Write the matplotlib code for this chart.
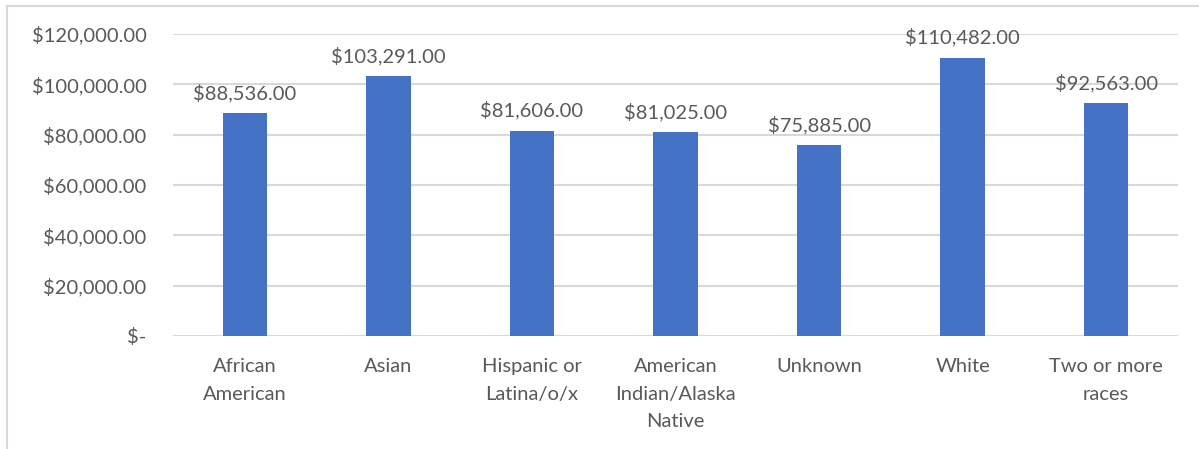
import matplotlib.pyplot as plt
from matplotlib.patches import Rectangle
from matplotlib.ticker import FuncFormatter
import numpy as np

plt.rcParams['font.family'] = ['Lato', 'DejaVu Sans']

groups = ['African\nAmerican', 'Asian', 'Hispanic or\nLatina/o/x',
          'American\nIndian/Alaska\nNative', 'Unknown', 'White',
          'Two or more\nraces']
salary = [88536, 103291, 81606, 81025, 75885, 110482, 92563]

text_color = '#595959'
bar_color = '#4472C4'
grid_color = '#D9D9D9'
fs = 14.5

fig = plt.figure(figsize=(11.99, 4.49), dpi=100)
ax = fig.add_axes([0.1443, 0.2517, 0.8382, 0.6726])

# light frame round the chart
fig.patches.append(Rectangle((0.006, -0.01), 1.2, 0.997, transform=fig.transFigure,
                             fill=False, edgecolor='#D9D9D9', linewidth=1.5))

x = np.arange(len(groups))
ax.bar(x, salary, width=0.31, color=bar_color, zorder=3)

for xi, v in zip(x, salary):
    ax.annotate(f'${v:,.2f}', (xi, v), xytext=(0, 8), textcoords='offset points',
                ha='center', va='bottom', fontsize=fs, color=text_color)

def money(v, pos):
    if v == 0:
        return '$-'
    return f'${v:,.2f}'

ax.set_ylim(0, 120000)
ax.set_yticks(np.arange(0, 120001, 20000))
ax.yaxis.set_major_formatter(FuncFormatter(money))
ax.set_xlim(-0.5, len(groups) - 0.5)
ax.set_xticks(x)
ax.set_xticklabels(groups, linespacing=1.75)

ax.tick_params(axis='both', length=0, labelsize=fs, colors=text_color)
ax.tick_params(axis='x', pad=16)
ax.tick_params(axis='y', pad=19)
ax.grid(axis='y', color=grid_color, linewidth=1.5, zorder=0)
for s in ax.spines.values():
    s.set_visible(False)

fig.savefig('out.png', dpi=100)
